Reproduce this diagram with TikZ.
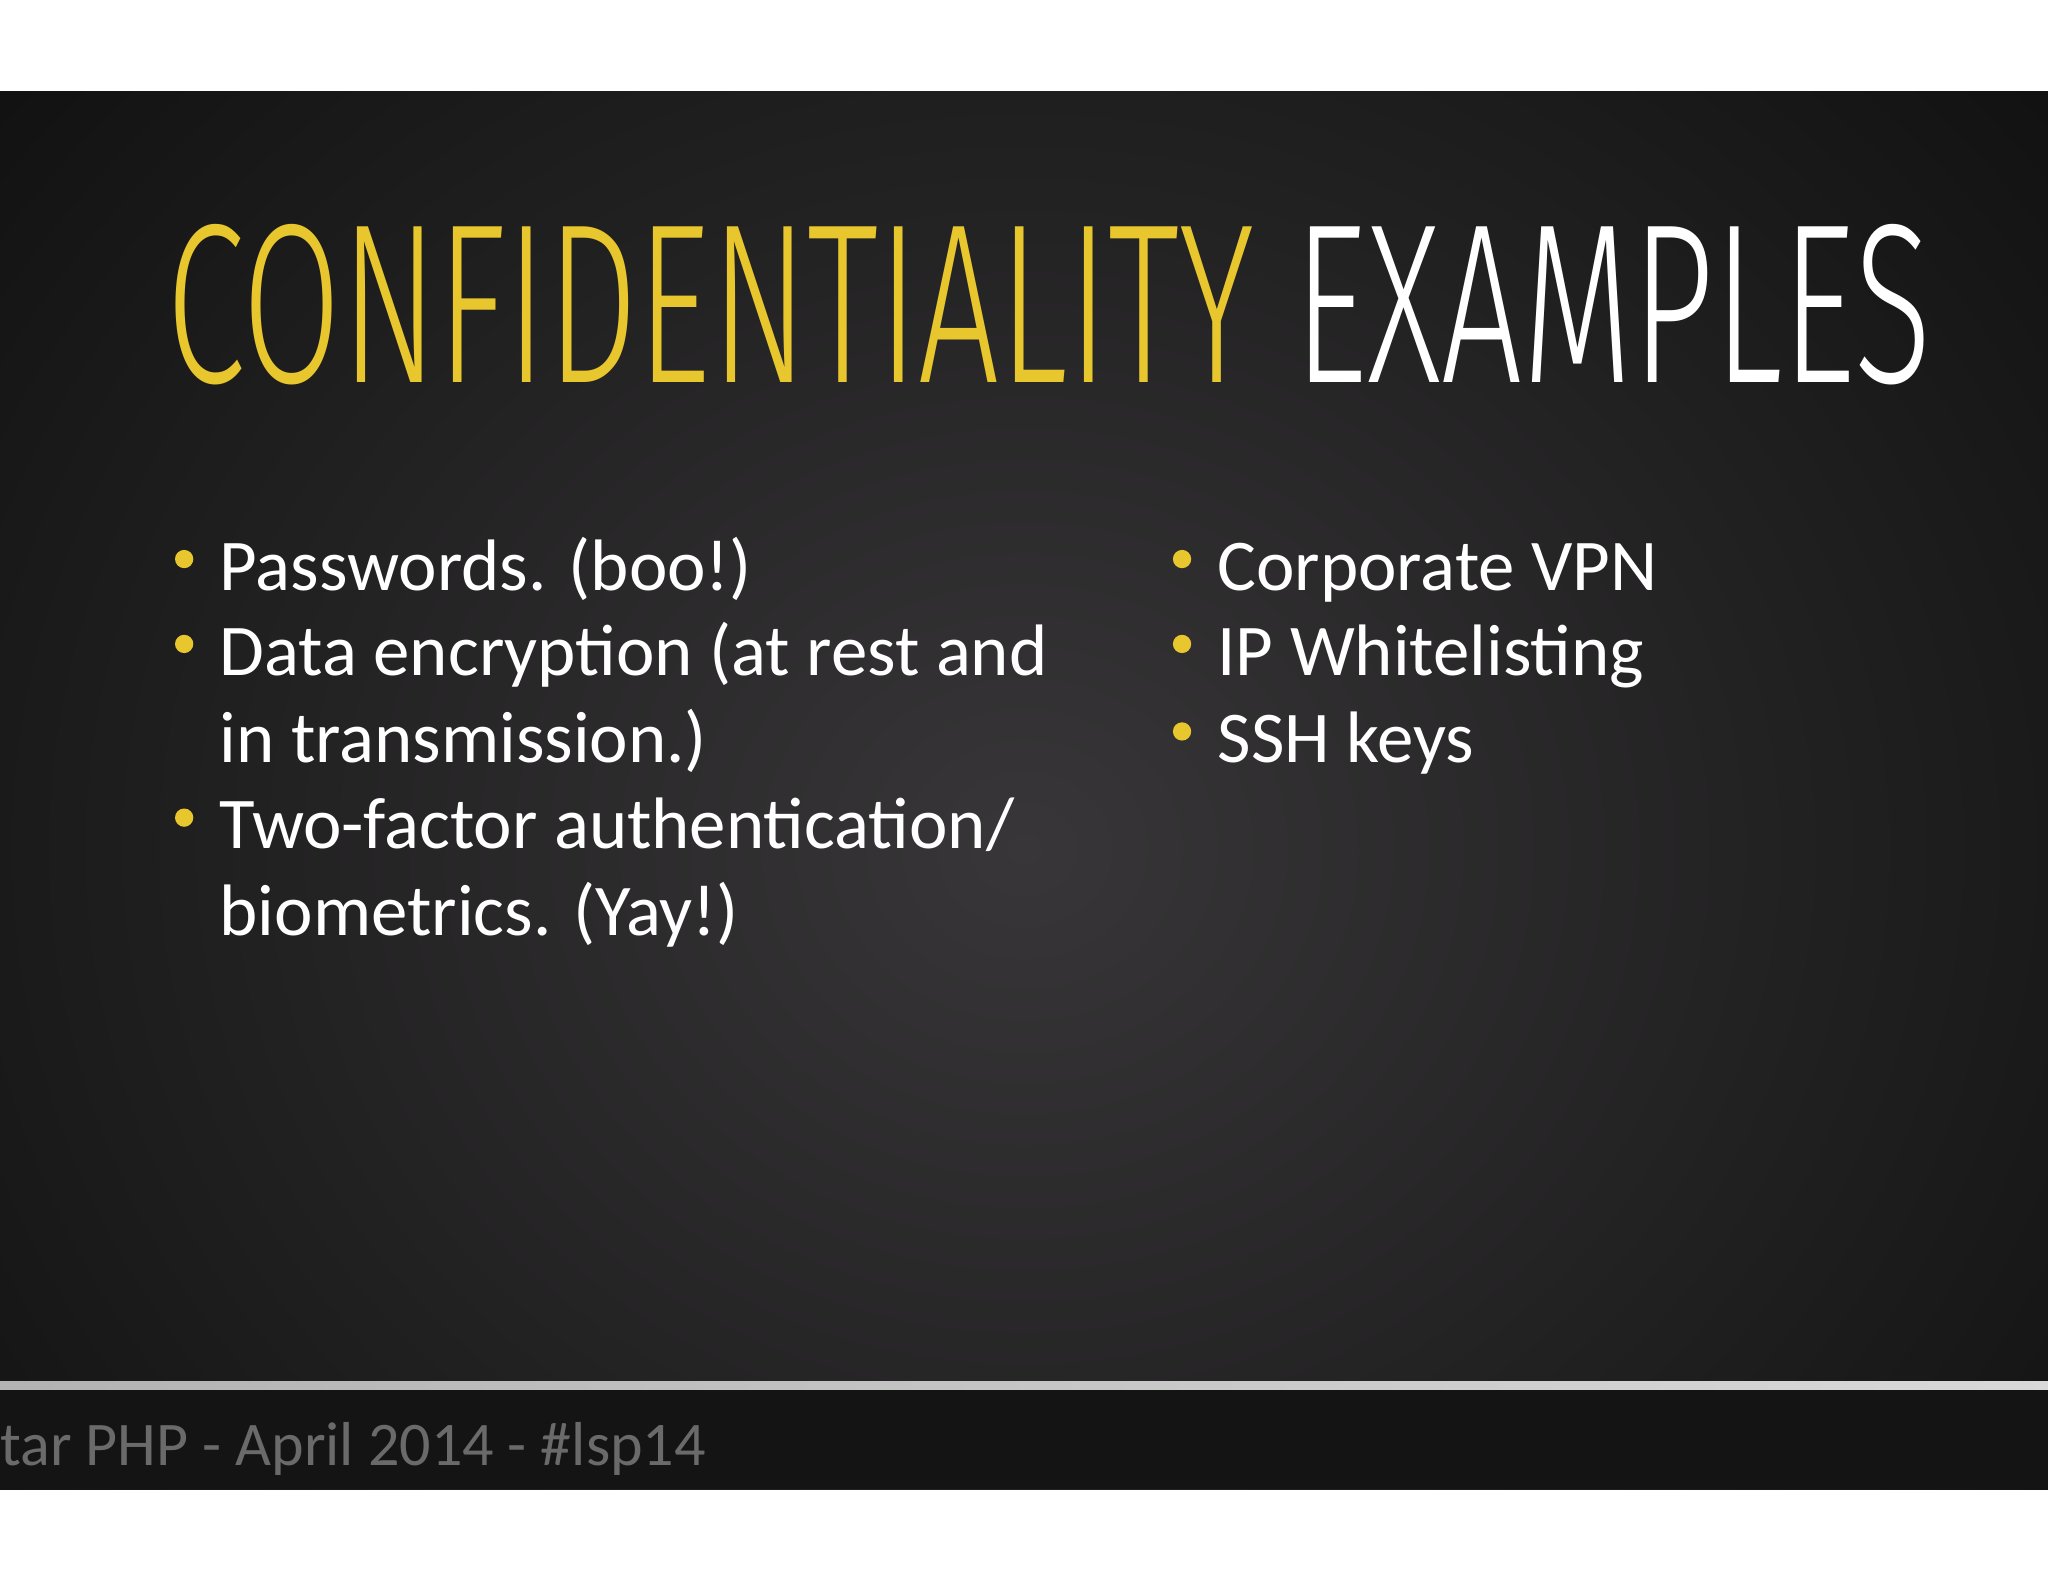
\documentclass[tikz,border=0pt]{standalone}
\usepackage{fontspec}
\setmainfont{Carlito}
\newfontfamily\titlefont{Fira Sans Light}
\definecolor{ttl}{HTML}{E8C62E}
\definecolor{foot}{HTML}{6A6A6A}
\begin{document}
\begin{tikzpicture}[x=1pt,y=-1pt,
  body/.style={anchor=base west,inner sep=0pt,text=white,font=\fontsize{55.8}{66}\selectfont},
  dot/.style={circle,fill=ttl,minimum size=14pt,inner sep=0pt}]
\useasboundingbox (0,0) rectangle (1568,1211);
\fill[white] (0,0) rectangle (1568,1211);
\begin{scope}
\clip (0,70) rectangle (1568,1140);
\shade[inner color={rgb,255:red,56;green,54;blue,56},outer color={rgb,255:red,12;green,12;blue,12}] (-400,-400) rectangle (1968,1700);
\fill[black!92] (0,1064) rectangle (1568,1140);
\shade[left color=black!30,right color=white!85!black] (0,1058) rectangle (1568,1064);
\end{scope}
\node[anchor=base west,inner sep=0pt,text=foot,font=\fontsize{47.5}{50}\selectfont] (ft) at (0,1122) {tar PHP - April 2014 - \#lsp14};
\node[anchor=south west,inner sep=0pt] (title) at (127,295) {\resizebox{1351pt}{121pt}{\titlefont\textcolor{ttl}{CONFIDENTIALITY} \textcolor{white}{EXAMPLES}}};
\node[dot] (b1) at (141,428) {};
\node[dot] (b2) at (141,493) {};
\node[dot] (b3) at (141,626) {};
\node[dot] (b4) at (905,428) {};
\node[dot] (b5) at (905,493) {};
\node[dot] (b6) at (905,560) {};
\node[body] (t1) at (168,452) {Passwords. (boo!)};
\node[body] (t2) at (168,517) {Data encryption (at rest and};
\node[body] (t2b) at (168,584) {in transmission.)};
\node[body] (t3) at (168,650) {Two-factor authentication/};
\node[body] (t3b) at (168,716) {biometrics. (Yay!)};
\node[body] (t4) at (932,452) {Corporate VPN};
\node[body] (t5) at (932,517) {IP Whitelisting};
\node[body] (t6) at (932,584) {SSH keys};
\end{tikzpicture}
\end{document}
